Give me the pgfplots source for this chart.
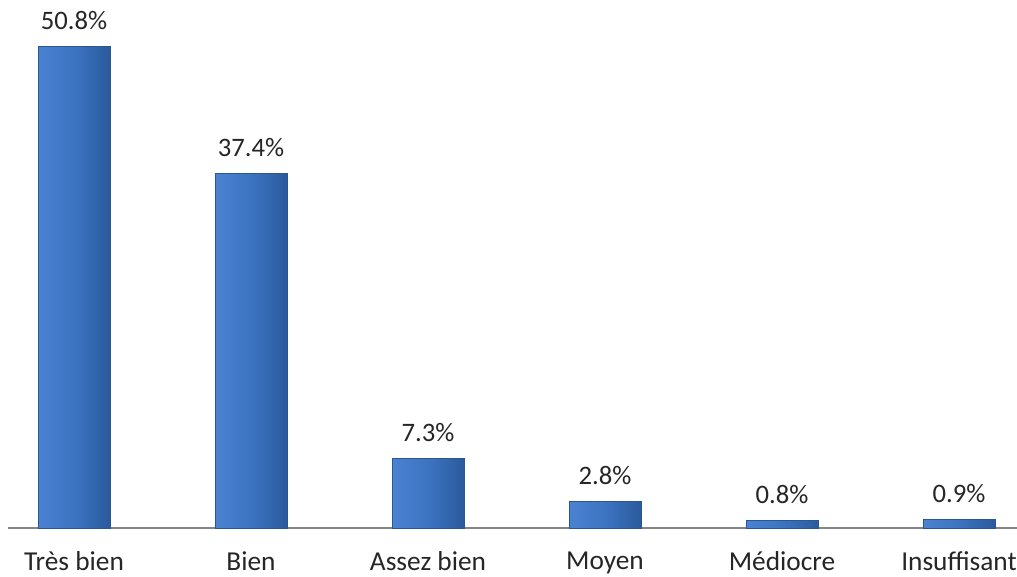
\documentclass[border=0pt]{standalone}
\usepackage{pgfplots}
\pgfplotsset{compat=1.18}
\usepackage{fontspec}
\setmainfont{Carlito}
\definecolor{txt}{HTML}{262626}
\definecolor{barmid}{HTML}{3C74C2}
\definecolor{barleft}{HTML}{4B83D2}
\definecolor{barright}{HTML}{2B5A9C}
\definecolor{bardark}{HTML}{2A5794}
\definecolor{axgray}{HTML}{868686}
\tikzset{mybar/.style={draw=bardark, line width=0.6pt, left color=barleft, right color=barright, middle color=barmid}}
\begin{document}
\begin{tikzpicture}
\begin{axis}[
  name=ax,
  scale only axis,
  width=756.75pt, height=396pt,
  xmin=-0.3729, xmax=5.3277,
  ymin=0, ymax=55.7,
  axis x line=bottom,
  axis y line=none,
  x axis line style={-, draw=axgray, line width=0.9pt},
  xtick={0,1,2,3,4,5},
  xticklabels={Très bien, Bien, Assez bien, Moyen, Médiocre, Insuffisant},
  major x tick style={draw=none},
  extra x ticks={0.5,1.5,2.5,3.5,4.5},
  extra x tick labels={},
  extra x tick style={tick style={draw=axgray, line width=0.9pt}, major tick length=9pt, tick align=outside},
  xticklabel style={font=\fontsize{20.5}{24}\selectfont, text=txt, yshift=-10pt},
  ybar,
  bar width=54pt,
  bar shift=0pt,
  point meta=explicit symbolic,
  nodes near coords,
  every node near coord/.append style={font=\fontsize{20}{24}\selectfont, text=txt, yshift=9pt},
  clip=false,
]
\addplot[mybar] coordinates {(0,50.8) [50.8\%]};
\addplot[mybar] coordinates {(1,37.4) [37.4\%]};
\addplot[mybar] coordinates {(2,7.3) [7.3\%]};
\addplot[mybar] coordinates {(3,2.8) [2.8\%]};
\addplot[mybar] coordinates {(4,0.8) [0.8\%]};
\addplot[mybar] coordinates {(5,0.9) [0.9\%]};
\end{axis}
\pgfresetboundingbox
\path ([shift={(-6pt,-36.75pt)}]ax.south west) rectangle (ax.north east);
\end{tikzpicture}
\end{document}
